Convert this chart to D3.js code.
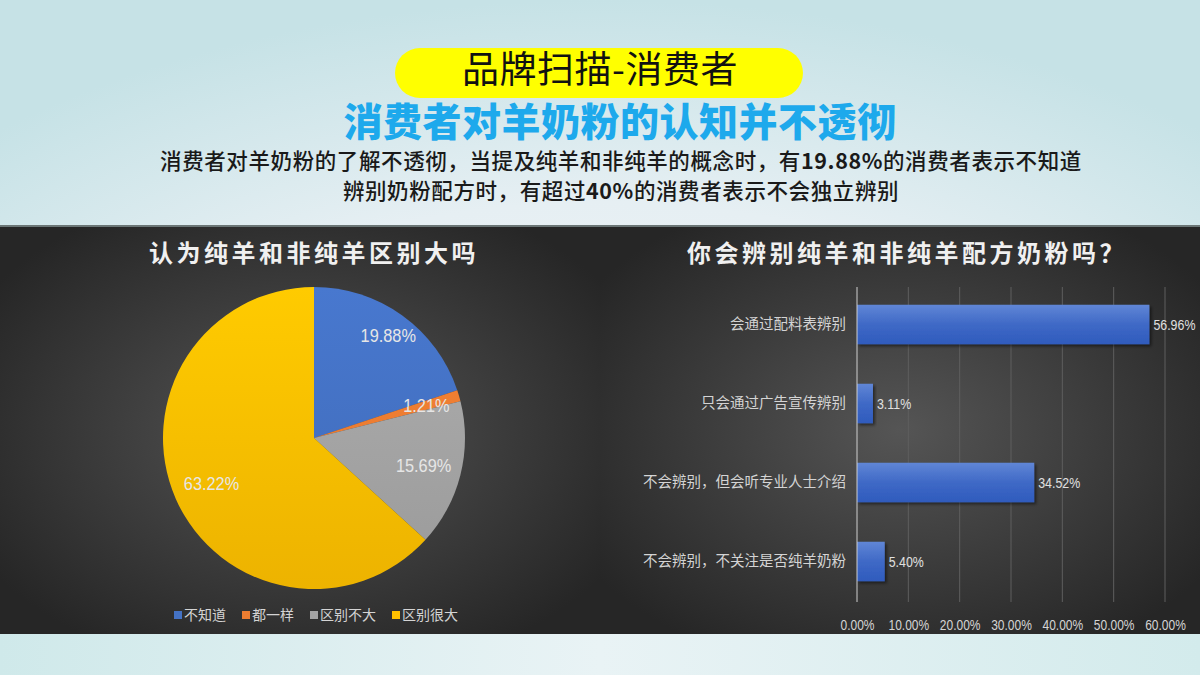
<!DOCTYPE html>
<html><head><meta charset="utf-8">
<script src="https://cdn.jsdelivr.net/npm/d3@7"></script>
<style>
html,body{margin:0;padding:0;width:1200px;height:675px;overflow:hidden;background:#e8f1f4;}
svg{display:block;}
</style></head>
<body>
<svg id="c" width="1200" height="675"></svg>
<script>
// ---- data ----
const pieCategories = ["不知道","都一样","区别不大","区别很大"];
const pieValues = [19.88, 1.21, 15.69, 63.22];
const pieColors = ["#4472c4","#ed7d31","#a5a5a5","#ffc000"];
const pieTitle = "认为纯羊和非纯羊区别大吗";

const barCategories = ["会通过配料表辨别","只会通过广告宣传辨别","不会辨别，但会听专业人士介绍","不会辨别，不关注是否纯羊奶粉"];
const barValues = [0.5696, 0.0311, 0.3452, 0.0540];
const barTicks = [0, 0.1, 0.2, 0.3, 0.4, 0.5, 0.6];
const barTitle = "你会辨别纯羊和非纯羊配方奶粉吗？";

const headTag = "品牌扫描-消费者";
const headTitle = "消费者对羊奶粉的认知并不透彻";
const bodyLine1 = [["消费者对羊奶粉的了解不透彻，当提及纯羊和非纯羊的概念时，有",false],["19.88%",true],["的消费者表示不知道",false]];
const bodyLine2 = [["辨别奶粉配方时，有超过",false],["40%",true],["的消费者表示不会独立辨别",false]];

const CJK = "'Noto Sans CJK SC','Noto Sans',sans-serif";
const NUM = "'Liberation Sans',Arial,sans-serif";
const SQ = 0.8; // horizontal squeeze for the condensed number font

const svg = d3.select("#c");
const defs = svg.append("defs");

// backgrounds
const bgTop = defs.append("radialGradient").attr("id","bgTop").attr("cx","0.5").attr("cy","0.75").attr("r","0.75");
bgTop.append("stop").attr("offset","0").attr("stop-color","#f3f6f9");
bgTop.append("stop").attr("offset","0.6").attr("stop-color","#e6eff3");
bgTop.append("stop").attr("offset","1").attr("stop-color","#c6e2e6");
svg.append("rect").attr("x",0).attr("y",0).attr("width",1200).attr("height",675).attr("fill","url(#bgTop)");

const bgBot = defs.append("linearGradient").attr("id","bgBot").attr("x1","0").attr("x2","1");
bgBot.append("stop").attr("offset","0").attr("stop-color","#cfe9ea");
bgBot.append("stop").attr("offset","0.5").attr("stop-color","#e9f3f5");
bgBot.append("stop").attr("offset","1").attr("stop-color","#d3ebec");
svg.append("rect").attr("x",0).attr("y",634).attr("width",1200).attr("height",41).attr("fill","url(#bgBot)");

// dark panels
["L","R"].forEach((k,i)=>{
  const g = defs.append("radialGradient").attr("id","dark"+k).attr("cx","0.5").attr("cy","0.5").attr("r","0.62");
  g.append("stop").attr("offset","0").attr("stop-color","#555555");
  g.append("stop").attr("offset","0.55").attr("stop-color","#3b3b3b");
  g.append("stop").attr("offset","1").attr("stop-color","#262626");
  svg.append("rect").attr("x",i*600).attr("y",226).attr("width",600).attr("height",408).attr("fill","url(#dark"+k+")");
});
svg.append("rect").attr("x",0).attr("y",225).attr("width",1200).attr("height",2).attr("fill","#6b7676");

// header
svg.append("rect").attr("x",395).attr("y",48).attr("width",408).attr("height",50).attr("rx",25).attr("fill","#ffff00");
svg.append("text").attr("x",600).attr("y",83).attr("text-anchor","middle")
  .style("font-family",CJK).style("font-size","37px").style("letter-spacing","0.5px").attr("fill","#111").text(headTag);
svg.append("text").attr("x",620).attr("y",136).attr("text-anchor","middle")
  .style("font-family",CJK).style("font-size","39px").style("font-weight","900").style("letter-spacing","0.5px")
  .attr("fill","#1da9ec").text(headTitle);

function bodyLine(parts, y){
  const t = svg.append("text").attr("x",621).attr("y",y).attr("text-anchor","middle")
    .style("font-family",CJK).style("font-size","21.5px").style("font-weight","500").style("letter-spacing","0.6px")
    .attr("fill","#1a1a1a");
  parts.forEach(p=>t.append("tspan").style("font-weight",p[1]?"700":"500").text(p[0]));
}
bodyLine(bodyLine1, 169);
bodyLine(bodyLine2, 199);

// ---- pie chart ----
const cx = 314, cy = 438, R = 151;
svg.append("text").attr("x",cx).attr("y",262).attr("text-anchor","middle")
  .style("font-family",CJK).style("font-size","24px").style("font-weight","700").style("letter-spacing","3.5px")
  .attr("fill","#f0f0f0").text(pieTitle);

const pie = d3.pie().sort(null).value(d=>d)(pieValues);
const arc = d3.arc().innerRadius(0).outerRadius(R);
pieColors.forEach((c,i)=>{
  const g = defs.append("linearGradient").attr("id","pg"+i).attr("gradientUnits","userSpaceOnUse")
    .attr("x1",0).attr("y1",-R).attr("x2",0).attr("y2",R);
  g.append("stop").attr("offset","0").attr("stop-color",d3.color(c).brighter(0.15));
  g.append("stop").attr("offset","1").attr("stop-color",d3.color(c).darker(0.2));
});
const pg = svg.append("g").attr("transform",`translate(${cx},${cy})`);
pg.selectAll("path").data(pie).join("path").attr("d",arc).attr("fill",(d,i)=>`url(#pg${i})`);
const labelR = [127,117,113,112];
pg.selectAll("text").data(pie).join("text")
  .attr("transform",(d,i)=>{
    const a=(d.startAngle+d.endAngle)/2;
    return `translate(${Math.sin(a)*labelR[i]},${-Math.cos(a)*labelR[i]}) scale(0.86,1)`;
  })
  .attr("dy","0.35em").attr("text-anchor","middle")
  .style("font-family",NUM).style("font-size","19px").attr("fill","#e6e6e6")
  .text(d=>d.data.toFixed(2)+"%");

// legend
const lg = svg.append("g");
let lx = 0;
pieCategories.forEach((c,i)=>{
  const it = lg.append("g");
  it.append("rect").attr("x",0).attr("y",-9).attr("width",8).attr("height",8).attr("fill",pieColors[i]);
  const tx = it.append("text").attr("x",10).attr("y",0).style("font-family",CJK).style("font-size","14px").attr("fill","#d4d4d4").text(c);
  const w = 10 + tx.node().getComputedTextLength();
  it.attr("transform",`translate(${lx},0)`);
  lx += w + 16;
});
const lw = lx - 16;
lg.attr("transform",`translate(${cx - lw/2 + 2},620)`);

// ---- bar chart ----
const x = d3.scaleLinear().domain([0,0.6]).range([857,1165]);
const y = d3.scaleBand().domain(barCategories).range([285,601]).paddingInner(0.5).paddingOuter(0.25);
svg.append("text").attr("x",907).attr("y",262).attr("text-anchor","middle")
  .style("font-family",CJK).style("font-size","24px").style("font-weight","700").style("letter-spacing","3.5px")
  .attr("fill","#f0f0f0").text(barTitle);

const grid = svg.append("g");
grid.selectAll("line").data(barTicks.slice(1)).join("line")
  .attr("x1",d=>x(d)).attr("x2",d=>x(d)).attr("y1",287).attr("y2",602)
  .attr("stroke","#5e5e5e").attr("stroke-width",1);

const bgrad = defs.append("linearGradient").attr("id","barG").attr("x1",0).attr("x2",0).attr("y1",0).attr("y2",1);
bgrad.append("stop").attr("offset","0").attr("stop-color","#6086d6");
bgrad.append("stop").attr("offset","0.5").attr("stop-color","#3f69c6");
bgrad.append("stop").attr("offset","1").attr("stop-color","#2f5bbd");
const sh = defs.append("filter").attr("id","sh").attr("x","-10%").attr("y","-20%").attr("width","130%").attr("height","160%");
sh.append("feDropShadow").attr("dx",2).attr("dy",2).attr("stdDeviation",1.5).attr("flood-color","#000").attr("flood-opacity",0.5);

svg.append("g").selectAll("rect").data(barValues).join("rect")
  .attr("x",x(0)).attr("y",(d,i)=>y(barCategories[i]))
  .attr("width",d=>x(d)-x(0)).attr("height",y.bandwidth())
  .attr("fill","url(#barG)").attr("filter","url(#sh)");

svg.append("line").attr("x1",x(0)).attr("x2",x(0)).attr("y1",287).attr("y2",602).attr("stroke","#cfcfcf").attr("stroke-width",1);

svg.append("g").selectAll("text").data(barValues).join("text")
  .attr("transform",(d,i)=>`translate(${x(d)+4},${y(barCategories[i])+y.bandwidth()/2}) scale(${SQ},1)`)
  .attr("dy","0.35em")
  .style("font-family",NUM).style("font-size","15.5px").attr("fill","#e0e0e0")
  .text(d=>d3.format(".2%")(d));

const yAxis = svg.append("g").attr("transform",`translate(${x(0)},0)`)
  .call(d3.axisLeft(y).tickSize(0).tickPadding(11));
yAxis.select(".domain").remove();
yAxis.selectAll("text").style("font-family",CJK).style("font-size","14.5px").attr("fill","#d4d4d4");

const xAxis = svg.append("g").attr("transform","translate(0,611)")
  .call(d3.axisBottom(x).tickValues(barTicks).tickFormat(d3.format(".2%")).tickSize(0).tickPadding(8));
xAxis.select(".domain").remove();
xAxis.selectAll("text").attr("transform",`scale(${SQ},1)`)
  .style("font-family",NUM).style("font-size","15px").attr("fill","#d4d4d4");
</script>
</body></html>
